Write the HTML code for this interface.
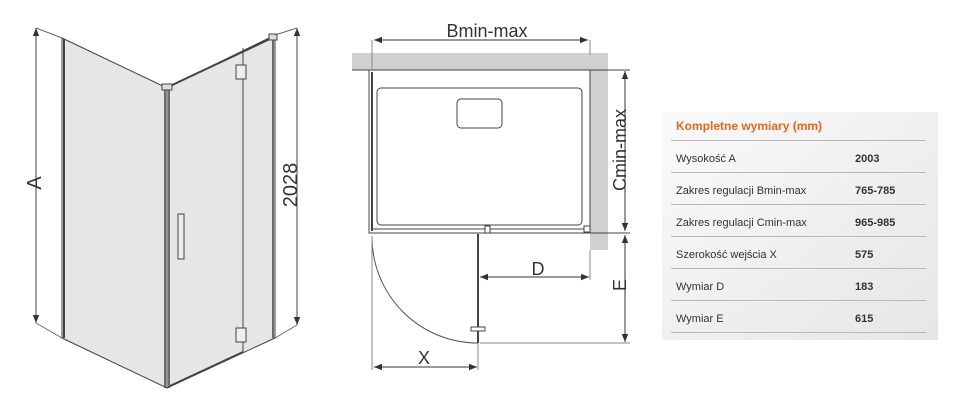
<!DOCTYPE html>
<html><head><style>
html,body{margin:0;padding:0;background:#fff;}
svg{display:block;font-family:"Liberation Sans",Arial,sans-serif;}
</style></head><body>
<svg width="960" height="412" viewBox="0 0 960 412" xmlns="http://www.w3.org/2000/svg">
<defs>
<marker id="ar" viewBox="0 0 10 10" refX="10" refY="5" markerWidth="8" markerHeight="8" orient="auto-start-reverse"><path d="M0,1 L10,5 L0,9 z" fill="#333"/></marker>
<linearGradient id="tg" x1="0" y1="0" x2="1" y2="1"><stop offset="0" stop-color="#fafafa"/><stop offset="1" stop-color="#e6e6e6"/></linearGradient>
</defs>
<!-- 3D view -->
<g stroke="#444" stroke-width="1">
<polygon points="62,38 167,88 167,388 62,338" fill="#e6e6e6"/>
<polygon points="167,88 275,35 275,338 167,388" fill="#e6e6e6"/>
<line x1="64" y1="39" x2="64" y2="338" stroke-width="2"/>
<line x1="165" y1="88" x2="165" y2="388" stroke-width="1.5"/>
<line x1="169" y1="88" x2="169" y2="388" stroke-width="1.5"/>
<line x1="243" y1="48" x2="243" y2="353" />
<line x1="273" y1="36" x2="273" y2="338" stroke-width="1.5"/>
<line x1="170" y1="86" x2="272" y2="38" stroke-width="2"/>
<line x1="170" y1="386" x2="243" y2="352" stroke-width="2"/>
<rect x="162" y="84" width="10" height="6" fill="#ddd"/>
<rect x="269" y="34" width="8" height="6" fill="#ddd"/>
<rect x="236" y="65" width="10" height="14" fill="#eee"/>
<rect x="236" y="328" width="10" height="14" fill="#eee"/>
<rect x="178" y="214" width="6" height="45" fill="#eee"/>
<line x1="36" y1="28" x2="62" y2="38" stroke="#666"/>
<line x1="36" y1="323" x2="62" y2="338" stroke="#666"/>
<line x1="297" y1="28" x2="275" y2="35" stroke="#666"/>
<line x1="297" y1="325" x2="275" y2="338" stroke="#666"/>
<line x1="36" y1="28" x2="36" y2="323" marker-start="url(#ar)" marker-end="url(#ar)"/>
<line x1="297" y1="28" x2="297" y2="325" marker-start="url(#ar)" marker-end="url(#ar)"/>
</g>
<text x="0" y="0" transform="translate(41,183) rotate(-90)" font-size="20" fill="#333" text-anchor="middle">A</text>
<text x="0" y="0" transform="translate(297,185) rotate(-90)" font-size="20" fill="#333" text-anchor="middle">2028</text>
<!-- plan -->
<rect x="352" y="53" width="256" height="17" fill="#d0d0d0"/>
<rect x="590" y="53" width="18" height="197" fill="#d0d0d0"/>
<g stroke="#444" fill="none" stroke-width="1">
<line x1="352" y1="70" x2="630" y2="70"/>
<rect x="369" y="70" width="221" height="163" fill="#fff"/>
<rect x="377" y="88" width="205" height="137" rx="4"/>
<rect x="457" y="99" width="45" height="29" rx="4"/>
<line x1="372" y1="72" x2="372" y2="231" stroke-width="2"/>
<line x1="372" y1="229" x2="590" y2="229"/>
<rect x="584" y="226" width="6" height="6" fill="#fff"/>
<rect x="485" y="226" width="5" height="7" fill="#fff"/>
<line x1="478" y1="234" x2="478" y2="343" stroke-width="2"/>
<rect x="471" y="327" width="14" height="4" fill="#fff"/>
<path d="M372,236 A106,106 0 0 0 478,343" stroke="#555"/>
<line x1="372" y1="40" x2="372" y2="69" stroke="#888"/>
<line x1="590" y1="40" x2="590" y2="55" stroke="#888"/>
<line x1="590" y1="250" x2="590" y2="280" stroke="#888"/>
<line x1="372" y1="236" x2="372" y2="370" stroke="#888"/>
<line x1="478" y1="343" x2="478" y2="370" stroke="#888"/>
<line x1="480" y1="343" x2="630" y2="343" stroke="#888"/>
<line x1="590" y1="233" x2="630" y2="233"/>
<line x1="374" y1="40" x2="588" y2="40" stroke="#333" marker-start="url(#ar)" marker-end="url(#ar)"/>
<line x1="625" y1="71" x2="625" y2="231" stroke="#333" marker-start="url(#ar)" marker-end="url(#ar)"/>
<line x1="625" y1="235" x2="625" y2="342" stroke="#333" marker-start="url(#ar)" marker-end="url(#ar)"/>
<line x1="480" y1="277" x2="589" y2="277" stroke="#333" marker-start="url(#ar)" marker-end="url(#ar)"/>
<line x1="374" y1="367" x2="477" y2="367" stroke="#333" marker-start="url(#ar)" marker-end="url(#ar)"/>
</g>
<text x="487" y="37" font-size="18" fill="#333" text-anchor="middle">Bmin-max</text>
<text transform="translate(626,150) rotate(-90)" font-size="18" fill="#333" text-anchor="middle">Cmin-max</text>
<text transform="translate(626,285) rotate(-90)" font-size="18" fill="#333" text-anchor="middle">E</text>
<text x="538" y="275" font-size="18" fill="#333" text-anchor="middle">D</text>
<text x="424" y="364" font-size="18" fill="#333" text-anchor="middle">X</text>
<!-- table -->
<rect x="662" y="112" width="276" height="228" fill="url(#tg)"/>
<text x="676" y="130" font-size="12" font-weight="bold" fill="#e8671c">Kompletne wymiary (mm)</text>
<g stroke="#b8b8b8">
<line x1="671" y1="140.5" x2="926" y2="140.5"/>
<line x1="671" y1="172.5" x2="926" y2="172.5"/>
<line x1="671" y1="204.5" x2="926" y2="204.5"/>
<line x1="671" y1="236.5" x2="926" y2="236.5"/>
<line x1="671" y1="268.5" x2="926" y2="268.5"/>
<line x1="671" y1="300.5" x2="926" y2="300.5"/>
<line x1="671" y1="332.5" x2="926" y2="332.5"/>
</g>
<g font-size="11" fill="#333">
<text x="676" y="162">Wysokość A</text>
<text x="676" y="194">Zakres regulacji Bmin-max</text>
<text x="676" y="226">Zakres regulacji Cmin-max</text>
<text x="676" y="258">Szerokość wejścia X</text>
<text x="676" y="290">Wymiar D</text>
<text x="676" y="322">Wymiar E</text>
</g>
<g font-size="11" font-weight="bold" fill="#333">
<text x="855" y="162">2003</text>
<text x="855" y="194">765-785</text>
<text x="855" y="226">965-985</text>
<text x="855" y="258">575</text>
<text x="855" y="290">183</text>
<text x="855" y="322">615</text>
</g>
</svg>
</body></html>
